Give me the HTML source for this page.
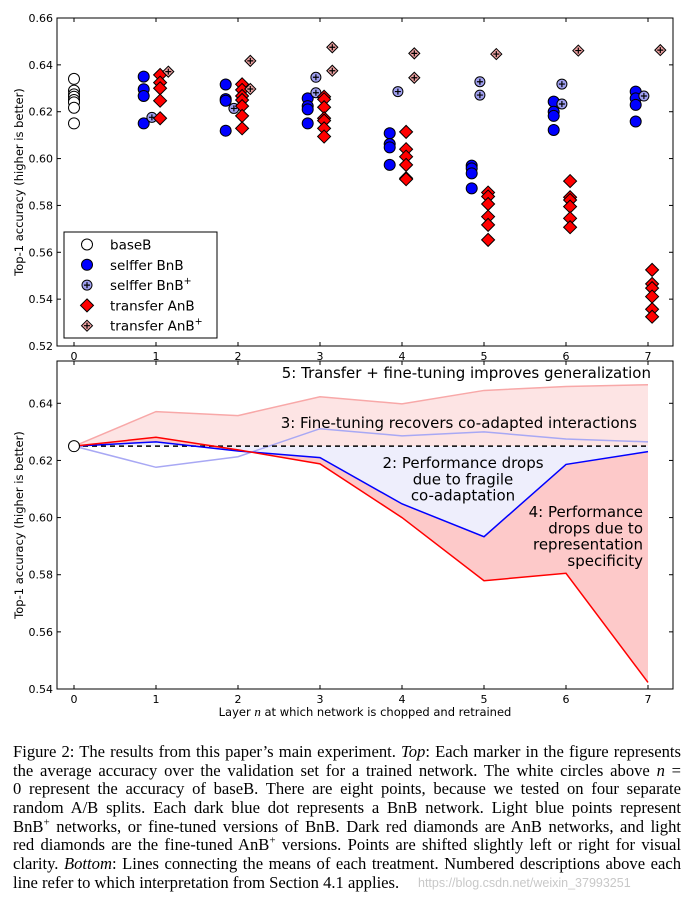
<!DOCTYPE html>
<html><head><meta charset="utf-8"><style>
body{margin:0;background:#fff;width:694px;height:902px;overflow:hidden;position:relative}
svg{position:absolute;left:0;top:0}
#cap{position:absolute;left:13px;top:743px;width:668px;font-family:"Liberation Serif",serif;font-size:16.6px;line-height:18.7px;color:#000}
#cap div{text-align:justify;text-align-last:justify;white-space:nowrap;height:18.7px}
#cap div.last{text-align-last:left}
#wm{position:absolute;left:418px;top:876px;font-family:"Liberation Sans",sans-serif;font-size:12.5px;color:#c8c8c8}
</style></head><body>
<svg id="chart" width="694" height="740" xmlns="http://www.w3.org/2000/svg" font-family="DejaVu Sans, Liberation Sans, sans-serif"></svg>
<div id="cap">
<div>Figure 2: The results from this paper’s main experiment. <i>Top</i>: Each marker in the figure represents</div>
<div>the average accuracy over the validation set for a trained network. The white circles above <i>n</i> =</div>
<div>0 represent the accuracy of baseB. There are eight points, because we tested on four separate</div>
<div>random A/B splits. Each dark blue dot represents a BnB network. Light blue points represent</div>
<div>BnB<sup style="font-size:11px;line-height:0">+</sup> networks, or fine-tuned versions of BnB. Dark red diamonds are AnB networks, and light</div>
<div>red diamonds are the fine-tuned AnB<sup style="font-size:11px;line-height:0">+</sup> versions. Points are shifted slightly left or right for visual</div>
<div>clarity. <i>Bottom</i>: Lines connecting the means of each treatment. Numbered descriptions above each</div>
<div class="last">line refer to which interpretation from Section 4.1 applies.</div>
</div>
<div id="wm">https://blog.csdn.net/weixin_37993251</div>
<script>
const layers=[0,1,2,3,4,5,6,7];
const yTicksTop=[0.52,0.54,0.56,0.58,0.60,0.62,0.64,0.66];
const yTicksBot=[0.54,0.56,0.58,0.60,0.62,0.64];
const baseB=[0.634,0.629,0.6274,0.6264,0.625,0.624,0.6217,0.615];
const bnb=[[],[0.635,0.6296,0.6267,0.615],[0.6316,0.6254,0.6247,0.6119],[0.6257,0.6224,0.621,0.615],[0.6108,0.6062,0.6048,0.5973],[0.597,0.5958,0.5937,0.5873],[0.6243,0.62,0.6182,0.6122],[0.6286,0.6257,0.6229,0.6158]];
const bnbPlus=[[],[0.6176],[0.6214],[0.6347,0.6281],[0.6286],[0.6328,0.6271],[0.6318,0.6233],[0.6267]];
const anb=[[],[0.6357,0.6324,0.630,0.6247,0.6172],[0.6317,0.6293,0.6267,0.625,0.6224,0.6182,0.6129],[0.6264,0.6253,0.6219,0.6172,0.6162,0.6129,0.6094],[0.6114,0.604,0.6008,0.5973,0.5916,0.5912],[0.5855,0.5838,0.5806,0.5752,0.5717,0.5653],[0.5904,0.5835,0.5823,0.5795,0.5745,0.5707],[0.5525,0.5465,0.5447,0.5411,0.5357,0.5325]];
const anbPlus=[[],[0.6371],[0.6417,0.6297],[0.6475,0.6375],[0.6449,0.6345],[0.6446],[0.6461],[0.6463]];
const meanBase=0.625;
const meanAnBPlus=[0.625,0.6371,0.6357,0.6423,0.6398,0.6445,0.6459,0.6465];
const meanBnBPlus=[0.625,0.6176,0.6213,0.6311,0.6286,0.630,0.6275,0.6265];
const meanBnB=[0.625,0.6265,0.6233,0.621,0.6048,0.5933,0.6186,0.6231];
const meanAnB=[0.625,0.6281,0.6237,0.6188,0.600,0.5779,0.5805,0.5423];

const svgEl=document.getElementById('chart');
const NS='http://www.w3.org/2000/svg';
function mk(tag,attrs,parent){const e=document.createElementNS(NS,tag);for(const k in attrs)e.setAttribute(k,attrs[k]);(parent||svgEl).appendChild(e);return e;}
const L=57,R=673;
const xS=v=>74+v*82;
const yT=v=>18+(0.66-v)/0.14*328;
const yB=v=>403.3+(0.64-v)/0.10*285.7;

function axes(t0,b0,yScale,ticks,name){
  const g=mk('g',{});
  
  
  mk('rect',{x:L,y:t0,width:R-L,height:b0-t0,fill:'none',stroke:'#000','stroke-width':1},g);
  ticks.forEach(t=>{const y=yScale(t);
    mk('line',{x1:L,x2:L+4,y1:y,y2:y,stroke:'#000'},g);mk('line',{x1:R,x2:R-4,y1:y,y2:y,stroke:'#000'},g);
    const tx=mk('text',{x:L-4,y:y+4,'text-anchor':'end','font-size':11},g);tx.textContent=t.toFixed(2);
    
    });
  layers.forEach(l=>{const x=xS(l);
    mk('line',{x1:x,x2:x,y1:b0,y2:b0-4,stroke:'#000'},g);mk('line',{x1:x,x2:x,y1:t0,y2:t0+4,stroke:'#000'},g);
    const tx=mk('text',{x:x,y:b0+14,'text-anchor':'middle','font-size':11},g);tx.textContent=l;
    
    
  });
  const yl=mk('text',{x:0,y:0,'text-anchor':'middle','font-size':11.5,transform:`translate(23,${(t0+b0)/2}) rotate(-90)`},g);
  yl.textContent='Top-1 accuracy (higher is better)';
  
  
}
function circle(x,y,fill,plus,r,par){mk('circle',{cx:x,cy:y,r:r,fill:fill,stroke:'#000','stroke-width':1},par);
  if(plus){mk('path',{d:`M${x-3},${y}H${x+3}M${x},${y-3}V${y+3}`,stroke:'#000','stroke-width':1.2},par);}}
function diamond(x,y,fill,plus,s,par){mk('path',{d:`M${x},${y-s}L${x+s},${y}L${x},${y+s}L${x-s},${y}Z`,fill:fill,stroke:'#000','stroke-width':1},par);
  if(plus){mk('path',{d:`M${x-3},${y}H${x+3}M${x},${y-3}V${y+3}`,stroke:'#000','stroke-width':1.2},par);}}

// top chart
const topG=mk('g',{});


baseB.forEach(v=>circle(xS(0),yT(v),'#fff',false,5.5,topG));
layers.forEach(l=>{
  bnb[l].forEach(v=>circle(xS(l-0.15),yT(v),'#0000ff',false,5.5,topG));
  bnbPlus[l].forEach(v=>circle(xS(l-0.05),yT(v),'#a0a0f0',true,5,topG));
  anb[l].forEach(v=>diamond(xS(l+0.05),yT(v),'#ff0000',false,6.5,topG));
  anbPlus[l].forEach(v=>diamond(xS(l+0.15),yT(v),'#eca0a0',true,5.5,topG));
});
axes(18,346,yT,yTicksTop,'top-axes');
// legend
const lg=mk('g',{});


mk('rect',{x:64,y:232,width:153,height:106,fill:'#fff',stroke:'#000','stroke-width':1},lg);
const leg=[['baseB',0],['selffer BnB',1],['selffer BnB',2],['transfer AnB',3],['transfer AnB',4]];
leg.forEach((e,i)=>{const y=244.5+i*20.3;
  if(e[1]==0)circle(87,y,'#fff',false,5.5,lg);
  if(e[1]==1)circle(87,y,'#0000ff',false,5.5,lg);
  if(e[1]==2)circle(87,y,'#a0a0f0',true,5,lg);
  if(e[1]==3)diamond(87,y,'#ff0000',false,6.5,lg);
  if(e[1]==4)diamond(87,y,'#eca0a0',true,5.5,lg);
  const t=mk('text',{x:110,y:y+5,'font-size':13.5},lg);t.textContent=e[0];
  
  
  if(e[1]==2||e[1]==4){const s=mk('tspan',{dy:-6,'font-size':9.5},t);s.textContent='+';}
});

// bottom chart
const botG=mk('g',{});


function pts(arr){return arr.map((v,i)=>[xS(i),yB(v)]);}
function poly(a,b){const p=a.concat(b.slice().reverse());return 'M'+p.map(q=>q.join(',')).join('L')+'Z';}
const basePts=layers.map(l=>[xS(l),yB(meanBase)]);
mk('path',{d:poly(pts(meanAnBPlus),basePts),fill:'#fde4e4',stroke:'none'},botG);
mk('path',{d:poly(basePts,pts(meanBnB)),fill:'#eeeefc',stroke:'none'},botG);
mk('path',{d:poly(pts(meanBnB),pts(meanAnB)),fill:'#fdc9c9',stroke:'none'},botG);
function line(arr,col,w,name){const p=mk('path',{d:'M'+pts(arr).map(q=>q.join(',')).join('L'),fill:'none',stroke:col,'stroke-width':w},botG);
  
  }
line(meanAnBPlus,'#f8a8a8',1.5,'line-anbplus');
line(meanBnBPlus,'#a8a8f4',1.5,'line-bnbplus');
const dl=mk('line',{x1:xS(0),x2:xS(7),y1:yB(meanBase),y2:yB(meanBase),stroke:'#000','stroke-width':1.5,'stroke-dasharray':'5,4'},botG);


line(meanBnB,'#0000ff',1.5,'line-bnb');
line(meanAnB,'#ff0000',1.5,'line-anb');
circle(xS(0),yB(meanBase),'#fff',false,5.5,botG);
axes(361,689,yB,yTicksBot,'bottom-axes');
function ann(lines,x,y0,anchor,name){const g=mk('g',{},botG);
  
  
  lines.forEach((s,i)=>{const t=mk('text',{x:x,y:y0+i*16.3,'text-anchor':anchor,'font-size':15},g);t.textContent=s;});}
ann(['5: Transfer + fine-tuning improves generalization'],651,378,'end','annotation-5');
ann(['3: Fine-tuning recovers co-adapted interactions'],637,428,'end','annotation-3');
ann(['2: Performance drops','due to fragile','co-adaptation'],463,468,'middle','annotation-2');
ann(['4: Performance','drops due to','representation','specificity'],643,517,'end','annotation-4');
const xl=mk('text',{x:365,y:716,'text-anchor':'middle','font-size':11.5},botG);
xl.textContent='Layer ';
const ni=mk('tspan',{'font-style':'italic','font-family':'Liberation Serif, serif','font-size':13},xl);ni.textContent='n';
const rest=mk('tspan',{},xl);rest.textContent=' at which network is chopped and retrained';


</script>
</body></html>
